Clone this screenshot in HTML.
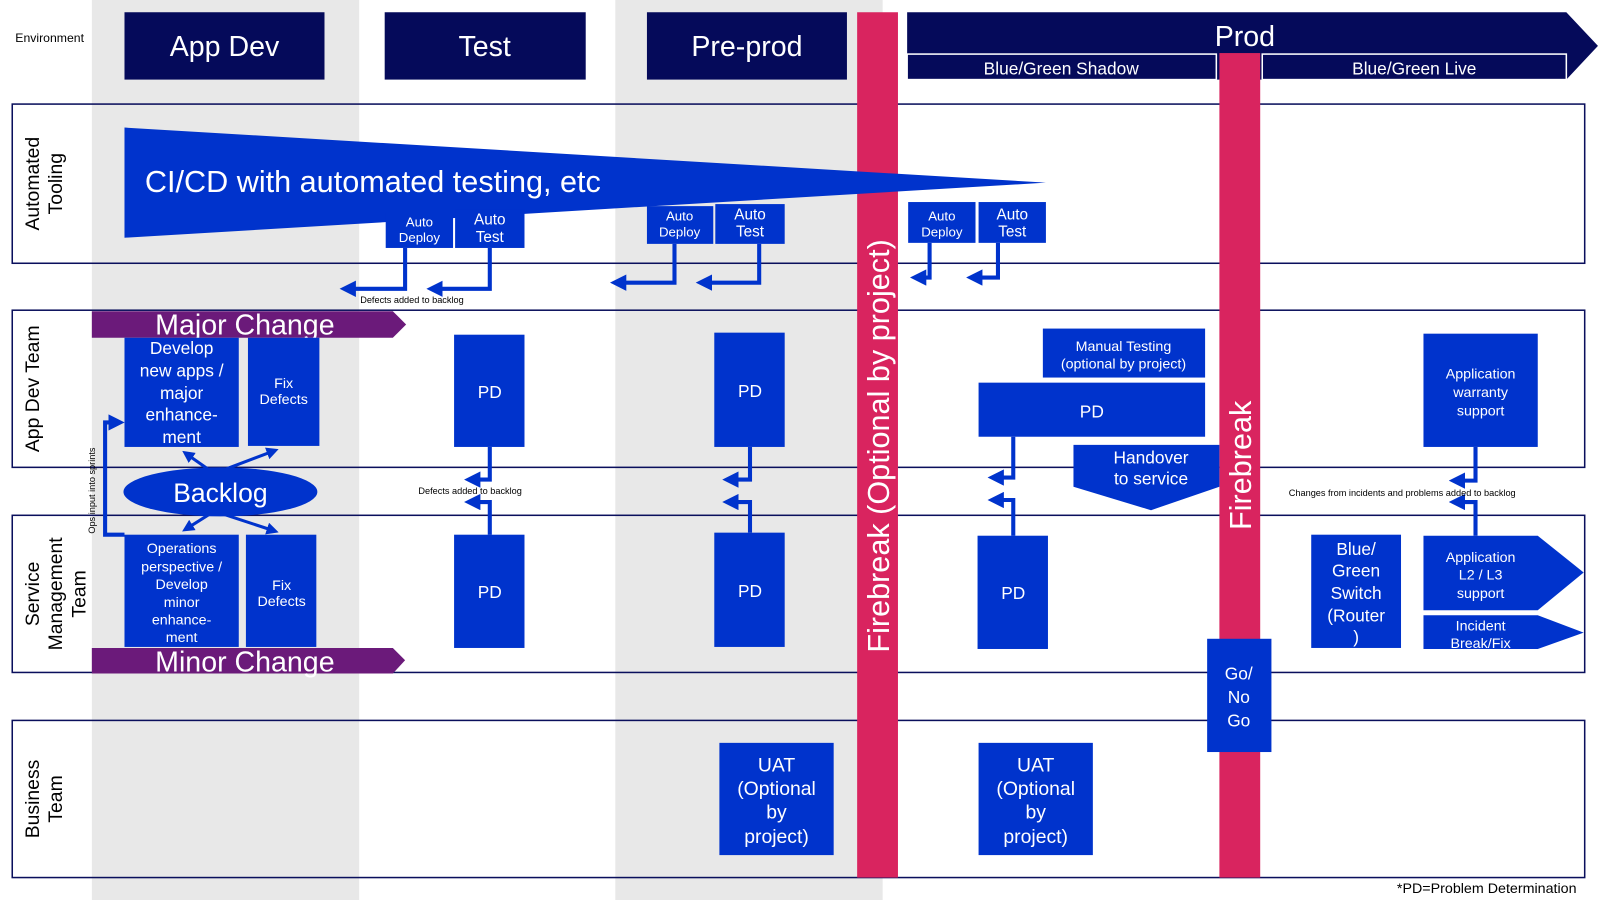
<!DOCTYPE html>
<html><head><meta charset="utf-8"><style>
html,body{margin:0;padding:0;background:#fff;}
svg{display:block;font-family:"Liberation Sans",sans-serif;}
</style></head><body>
<svg width="1600" height="900" viewBox="0 0 1568 882" preserveAspectRatio="none" xmlns="http://www.w3.org/2000/svg">
<defs>
<marker id="ah" markerWidth="4" markerHeight="4" refX="2.2" refY="2" orient="auto" markerUnits="strokeWidth"><path d="M0,0 L4,2 L0,4 z" fill="#0033cc"/></marker>
</defs>
<rect x="0" y="0" width="1568" height="882" fill="#fff"/>
<rect x="90" y="0" width="262" height="882" fill="#e8e8e8"/>
<rect x="603" y="0" width="262" height="882" fill="#e8e8e8"/>
<g fill="none" stroke="#0a0f5c" stroke-width="1.5">
<rect x="12" y="102" width="1541" height="156"/>
<rect x="12" y="304" width="1541" height="154"/>
<rect x="12" y="505" width="1541" height="154"/>
<rect x="12" y="706" width="1541" height="154"/>
</g>
<text x="15" y="41" font-size="12" fill="#000">Environment</text>
<g fill="#050a5a">
<rect x="122" y="12" width="196" height="66"/>
<rect x="377" y="12" width="197" height="66"/>
<rect x="634" y="12" width="196" height="66"/>
<polygon points="889,12 1535,12 1566,45 1535,78 889,78"/>
</g>
<g fill="#fff" font-size="28" text-anchor="middle">
<text x="220" y="55">App Dev</text>
<text x="475" y="55">Test</text>
<text x="732" y="55">Pre-prod</text>
<text x="1220" y="45">Prod</text>
</g>
<rect x="889" y="53" width="303" height="25" fill="#050a5a" stroke="#fff" stroke-width="1.5"/>
<rect x="1237" y="53" width="298" height="25" fill="#050a5a" stroke="#fff" stroke-width="1.5"/>
<text x="1040" y="73" font-size="17" fill="#fff" text-anchor="middle">Blue/Green Shadow</text>
<text x="1386" y="73" font-size="17" fill="#fff" text-anchor="middle">Blue/Green Live</text>
<g font-size="19" fill="#000" text-anchor="middle">
<text transform="translate(38,180) rotate(-90)">Automated</text>
<text transform="translate(61,180) rotate(-90)">Tooling</text>
<text transform="translate(38,381) rotate(-90)">App Dev Team</text>
<text transform="translate(38,582) rotate(-90)">Service</text>
<text transform="translate(61,582) rotate(-90)">Management</text>
<text transform="translate(84,582) rotate(-90)">Team</text>
<text transform="translate(38,783) rotate(-90)">Business</text>
<text transform="translate(61,783) rotate(-90)">Team</text>
</g>
<rect x="840" y="12" width="40" height="848" fill="#d9245f"/>
<rect x="1195" y="52" width="40" height="808" fill="#d9245f"/>
<polygon points="122,125 1025,179 122,233" fill="#0033cc"/>
<text x="142" y="188" font-size="30" fill="#fff">CI/CD with automated testing, etc</text>
<g fill="#0033cc">
<rect x="378" y="209" width="66" height="34"/><rect x="446" y="205" width="68" height="38"/>
<rect x="634" y="202" width="65" height="37"/><rect x="701" y="200" width="68" height="39"/>
<rect x="890" y="198" width="66" height="40"/><rect x="959" y="198" width="66" height="40"/>
</g>
<g fill="#fff" font-size="13" text-anchor="middle">
<text x="411" y="222">Auto</text><text x="411" y="237">Deploy</text>
<text x="480" y="220" font-size="15">Auto</text><text x="480" y="237" font-size="15">Test</text>
<text x="666" y="216">Auto</text><text x="666" y="232">Deploy</text>
<text x="735" y="215" font-size="15">Auto</text><text x="735" y="232" font-size="15">Test</text>
<text x="923" y="216">Auto</text><text x="923" y="232">Deploy</text>
<text x="992" y="215" font-size="15">Auto</text><text x="992" y="232" font-size="15">Test</text>
</g>
<g fill="none" stroke="#0033cc" stroke-width="4" marker-end="url(#ah)">
<polyline points="397,243 397,283 340,283"/>
<polyline points="480,243 480,283 425,283"/>
<polyline points="661,239 661,277 605,277"/>
<polyline points="744,239 744,277 689,277"/>
<polyline points="911,238 911,272 899,272"/>
<polyline points="978,238 978,272 954,272"/>
<polyline points="480,438 480,470 462,470"/>
<polyline points="480,524 480,492 462,492"/>
<polyline points="735,438 735,470 715,470"/>
<polyline points="735,522 735,492 715,492"/>
<polyline points="993,428 993,468 975,468"/>
<polyline points="993,525 993,490 975,490"/>
<polyline points="1446,438 1446,471 1427,471"/>
<polyline points="1446,525 1446,492 1427,492"/>
<polyline points="122,524 103,524 103,414 115,414"/>
<polyline points="210,464 183,445" stroke-width="3"/>
<polyline points="210,464 268,442" stroke-width="3"/>
<polyline points="210,501 183,518" stroke-width="3"/>
<polyline points="210,501 268,520" stroke-width="3"/>
</g>
<g font-size="9" fill="#000">
<text x="353" y="297">Defects added to backlog</text>
<text x="410" y="484">Defects added to backlog</text>
<text x="1263" y="486">Changes from incidents and problems added to backlog</text>
<text transform="translate(93,523) rotate(-90)">Ops input into sprints</text>
</g>
<polygon points="90,305 385,305 398,318 385,331 90,331" fill="#6b1a7a"/>
<polygon points="90,635 385,635 397,647 385,660 90,660" fill="#6b1a7a"/>
<text x="240" y="328" font-size="28" fill="#fff" text-anchor="middle">Major Change</text>
<text x="240" y="658" font-size="28" fill="#fff" text-anchor="middle">Minor Change</text>
<g fill="#0033cc">
<rect x="122" y="331" width="112" height="107"/>
<rect x="243" y="331" width="70" height="106"/>
<rect x="122" y="524" width="112" height="110"/>
<rect x="241" y="524" width="69" height="110"/>
<ellipse cx="216" cy="482" rx="95" ry="24"/>
<rect x="445" y="328" width="69" height="110"/>
<rect x="700" y="326" width="69" height="112"/>
<rect x="445" y="524" width="69" height="111"/>
<rect x="700" y="522" width="69" height="112"/>
<rect x="958" y="525" width="69" height="111"/>
<rect x="1022" y="322" width="159" height="48"/>
<rect x="959" y="375" width="222" height="53"/>
<polygon points="1052,436 1195,436 1195,477 1128,500 1052,477"/>
<rect x="1395" y="327" width="112" height="111"/>
<rect x="1285" y="524" width="88" height="111"/>
<polygon points="1395,525 1507,525 1552,561 1507,598 1395,598"/>
<polygon points="1395,603 1507,603 1552,620 1507,636 1395,636"/>
<rect x="705" y="728" width="112" height="110"/>
<rect x="959" y="728" width="112" height="110"/>
</g>
<rect x="1183" y="626" width="63" height="111" fill="#0033cc"/>
<g fill="#fff" text-anchor="middle">
<text transform="translate(871,437) rotate(-90)" font-size="30">Firebreak (Optional by project)</text>
<text transform="translate(1226,456) rotate(-90)" font-size="30">Firebreak</text>
<g font-size="17">
<text x="178" y="347">Develop</text><text x="178" y="369">new apps /</text><text x="178" y="391">major</text><text x="178" y="412">enhance-</text><text x="178" y="434">ment</text>
</g>
<g font-size="14">
<text x="278" y="380">Fix</text><text x="278" y="396">Defects</text>
<text x="276" y="578">Fix</text><text x="276" y="594">Defects</text>
<text x="178" y="542">Operations</text><text x="178" y="560">perspective /</text><text x="178" y="577">Develop</text><text x="178" y="595">minor</text><text x="178" y="612">enhance-</text><text x="178" y="629">ment</text>
<text x="1101" y="344">Manual Testing</text><text x="1101" y="361">(optional by project)</text>
<text x="1451" y="371">Application</text><text x="1451" y="389">warranty</text><text x="1451" y="407">support</text>
<text x="1451" y="551">Application</text><text x="1451" y="568">L2  / L3</text><text x="1451" y="586">support</text>
<text x="1451" y="618">Incident</text><text x="1451" y="635">Break/Fix</text>
</g>
<text x="216" y="492" font-size="26">Backlog</text>
<g font-size="17">
<text x="480" y="390">PD</text><text x="735" y="389">PD</text><text x="480" y="586">PD</text><text x="735" y="585">PD</text><text x="993" y="587">PD</text><text x="1070" y="409">PD</text>
<text x="1128" y="454">Handover</text><text x="1128" y="475">to service</text>
<text x="1329" y="544">Blue/</text><text x="1329" y="565">Green</text><text x="1329" y="587">Switch</text><text x="1329" y="609">(Router</text><text x="1329" y="630">)</text>
<text x="1214" y="666">Go/</text><text x="1214" y="689">No</text><text x="1214" y="712">Go</text>
<text x="761" y="756" font-size="19">UAT</text><text x="761" y="779" font-size="19">(Optional</text><text x="761" y="802" font-size="19">by</text><text x="761" y="826" font-size="19">project)</text>
<text x="1015" y="756" font-size="19">UAT</text><text x="1015" y="779" font-size="19">(Optional</text><text x="1015" y="802" font-size="19">by</text><text x="1015" y="826" font-size="19">project)</text>
</g>
</g>
<text x="1545" y="875" font-size="14" fill="#000" text-anchor="end">*PD=Problem Determination</text>
</svg>
</body></html>
